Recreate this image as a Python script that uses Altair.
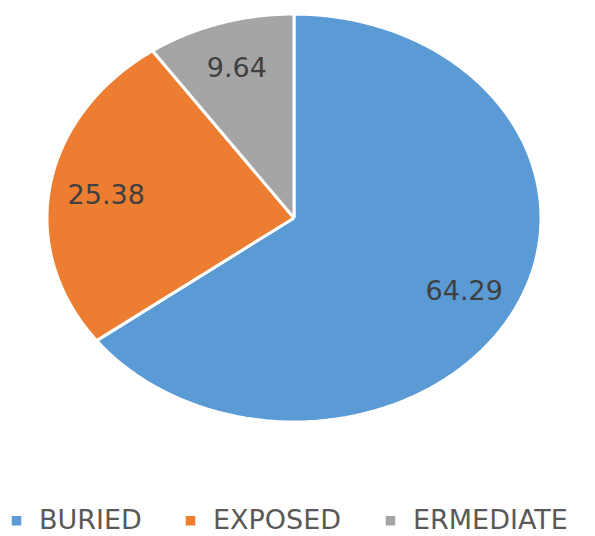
import altair as alt
import pandas as pd

categories = ["BURIED", "EXPOSED", "ERMEDIATE"]
values = [64.29, 25.38, 9.64]
colors = ["#5B9BD5", "#ED7D31", "#A5A5A5"]

df = pd.DataFrame({"category": categories, "value": values,
                   "rank": list(range(len(categories)))})

W, H = 595, 536
# ellipse scales (pie is stretched horizontally in the reference)
CX, CY, RX, RY = 294, 218, 247, 204
xdom = [(0 - CX) / RX, (W - CX) / RX]
ydom = [-(H - CY) / RY, CY / RY]

xs = alt.Scale(domain=xdom, nice=False, zero=False)
ys = alt.Scale(domain=ydom, nice=False, zero=False)

color = alt.Color(
    "category:N",
    scale=alt.Scale(domain=categories, range=colors),
    legend=alt.Legend(
        title=None, orient="none", direction="horizontal",
        legendX=3, legendY=507, symbolType="square", symbolSize=90,
        symbolStrokeWidth=0, labelFontSize=27, labelColor="#595959",
        labelFont="DejaVu Sans", columnPadding=35, labelOffset=9,
        labelLimit=400, labelBaseline="middle",
    ),
)

base = (
    alt.Chart(df)
    .transform_window(cum="sum(value)", sort=[alt.SortField("rank")], frame=[None, 0])
    .transform_joinaggregate(total="sum(value)")
    .transform_calculate(
        a0="2*PI*(datum.cum - datum.value)/datum.total",
        a1="2*PI*datum.cum/datum.total",
    )
)

slices = (
    base.transform_calculate(k="sequence(-1, 102)")
    .transform_flatten(["k"])
    .transform_calculate(
        r="(datum.k < 0 || datum.k > 100) ? 0 : 1",
        t="datum.a0 + (datum.a1 - datum.a0) * clamp(datum.k, 0, 100) / 100",
    )
    .transform_calculate(px="datum.r * sin(datum.t)", py="datum.r * cos(datum.t)")
    .mark_line(filled=True, stroke="white", strokeWidth=3, strokeJoin="round")
    .encode(
        x=alt.X("px:Q", scale=xs, axis=None),
        y=alt.Y("py:Q", scale=ys, axis=None),
        color=color,
        order="k:Q",
        detail="category:N",
    )
)

labels = (
    base.transform_calculate(tm="(datum.a0 + datum.a1)/2")
    .transform_calculate(lx="0.77*sin(datum.tm)", ly="0.78*cos(datum.tm)")
    .mark_text(fontSize=27, color="#404040", font="DejaVu Sans", dy=3)
    .encode(
        x=alt.X("lx:Q", scale=xs, axis=None),
        y=alt.Y("ly:Q", scale=ys, axis=None),
        text=alt.Text("value:Q", format=".2f"),
    )
)

chart = (
    alt.layer(slices, labels)
    .properties(width=W, height=H, padding=0, autosize=alt.AutoSizeParams(type="none"),
                background="white")
    .configure_view(stroke=None)
)

chart.save("out.html", embed_options={"renderer": "svg", "actions": False})
